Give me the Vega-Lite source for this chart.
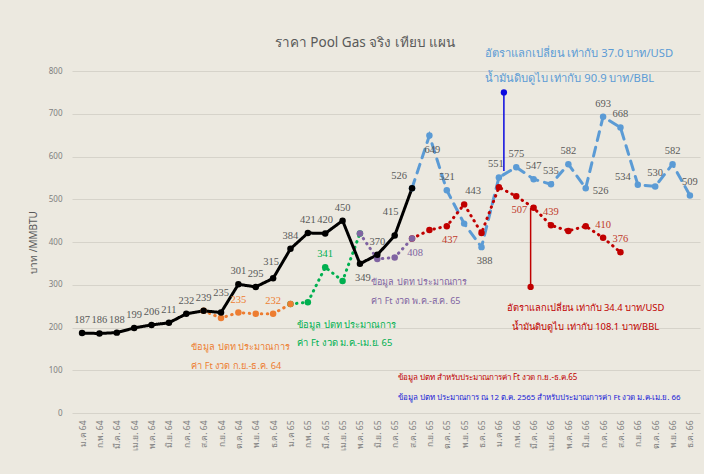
{
  "$schema": "https://vega.github.io/schema/vega-lite/v6.json",
  "width": 628,
  "height": 342,
  "autosize": "none",
  "padding": {"left": 72, "top": 71, "right": 4, "bottom": 61},
  "background": "#ECE9E0",
  "config": {
    "font": "Noto Sans",
    "view": {"stroke": null},
    "axis": {"labelColor": "#7f7f7f", "titleColor": "#595959", "labelFont": "Noto Sans", "titleFont": "Noto Sans"},
    "text": {"font": "Liberation Sans Narrow", "fontSize": 10.5, "baseline": "middle", "color": "#595959"}
  },
  "title": {"text": "ราคา Pool Gas จริง เทียบ แผน", "fontSize": 13.5, "fontWeight": "normal", "color": "#595959", "font": "Noto Sans", "dx": -21, "offset": -1, "anchor": "middle"},
  "datasets": {
    "series": [
      {"m": "ส.ค. 65", "s": "ft_jan_apr66", "v": 526},
      {"m": "ก.ย. 65", "s": "ft_jan_apr66", "v": 649},
      {"m": "ต.ค. 65", "s": "ft_jan_apr66", "v": 521},
      {"m": "พ.ย. 65", "s": "ft_jan_apr66", "v": 443},
      {"m": "ธ.ค. 65", "s": "ft_jan_apr66", "v": 388},
      {"m": "ม.ค 66", "s": "ft_jan_apr66", "v": 551},
      {"m": "ก.พ. 66", "s": "ft_jan_apr66", "v": 575},
      {"m": "มี.ค. 66", "s": "ft_jan_apr66", "v": 547},
      {"m": "เม.ย. 66", "s": "ft_jan_apr66", "v": 535},
      {"m": "พ.ค. 66", "s": "ft_jan_apr66", "v": 582},
      {"m": "มิ.ย. 66", "s": "ft_jan_apr66", "v": 526},
      {"m": "ก.ค. 66", "s": "ft_jan_apr66", "v": 693},
      {"m": "ส.ค. 66", "s": "ft_jan_apr66", "v": 668},
      {"m": "ก.ย. 66", "s": "ft_jan_apr66", "v": 534},
      {"m": "ต.ค. 66", "s": "ft_jan_apr66", "v": 530},
      {"m": "พ.ย. 66", "s": "ft_jan_apr66", "v": 582},
      {"m": "ธ.ค. 66", "s": "ft_jan_apr66", "v": 509},
      {"m": "ส.ค. 65", "s": "ft_sep_dec65", "v": 408},
      {"m": "ก.ย. 65", "s": "ft_sep_dec65", "v": 428},
      {"m": "ต.ค. 65", "s": "ft_sep_dec65", "v": 437},
      {"m": "พ.ย. 65", "s": "ft_sep_dec65", "v": 488},
      {"m": "ธ.ค. 65", "s": "ft_sep_dec65", "v": 421},
      {"m": "ม.ค 66", "s": "ft_sep_dec65", "v": 528},
      {"m": "ก.พ. 66", "s": "ft_sep_dec65", "v": 507},
      {"m": "มี.ค. 66", "s": "ft_sep_dec65", "v": 480},
      {"m": "เม.ย. 66", "s": "ft_sep_dec65", "v": 439},
      {"m": "พ.ค. 66", "s": "ft_sep_dec65", "v": 426},
      {"m": "มิ.ย. 66", "s": "ft_sep_dec65", "v": 437},
      {"m": "ก.ค. 66", "s": "ft_sep_dec65", "v": 410},
      {"m": "ส.ค. 66", "s": "ft_sep_dec65", "v": 376},
      {"m": "ม.ค 65", "s": "ft_jan_apr65", "v": 255},
      {"m": "ก.พ. 65", "s": "ft_jan_apr65", "v": 259},
      {"m": "มี.ค. 65", "s": "ft_jan_apr65", "v": 341},
      {"m": "เม.ย. 65", "s": "ft_jan_apr65", "v": 309},
      {"m": "พ.ค. 65", "s": "ft_jan_apr65", "v": 420},
      {"m": "พ.ค. 65", "s": "ft_may_aug65", "v": 420},
      {"m": "มิ.ย. 65", "s": "ft_may_aug65", "v": 360},
      {"m": "ก.ค. 65", "s": "ft_may_aug65", "v": 364},
      {"m": "ส.ค. 65", "s": "ft_may_aug65", "v": 408},
      {"m": "ส.ค. 64", "s": "ft_sep_dec64", "v": 239},
      {"m": "ก.ย. 64", "s": "ft_sep_dec64", "v": 222},
      {"m": "ต.ค. 64", "s": "ft_sep_dec64", "v": 235},
      {"m": "พ.ย. 64", "s": "ft_sep_dec64", "v": 232},
      {"m": "ธ.ค. 64", "s": "ft_sep_dec64", "v": 232},
      {"m": "ม.ค 65", "s": "ft_sep_dec64", "v": 255},
      {"m": "ม.ค 64", "s": "actual", "v": 187},
      {"m": "ก.พ. 64", "s": "actual", "v": 186},
      {"m": "มี.ค. 64", "s": "actual", "v": 188},
      {"m": "เม.ย. 64", "s": "actual", "v": 199},
      {"m": "พ.ค. 64", "s": "actual", "v": 206},
      {"m": "มิ.ย. 64", "s": "actual", "v": 211},
      {"m": "ก.ค. 64", "s": "actual", "v": 232},
      {"m": "ส.ค. 64", "s": "actual", "v": 239},
      {"m": "ก.ย. 64", "s": "actual", "v": 235},
      {"m": "ต.ค. 64", "s": "actual", "v": 301},
      {"m": "พ.ย. 64", "s": "actual", "v": 295},
      {"m": "ธ.ค. 64", "s": "actual", "v": 315},
      {"m": "ม.ค 65", "s": "actual", "v": 384},
      {"m": "ก.พ. 65", "s": "actual", "v": 421},
      {"m": "มี.ค. 65", "s": "actual", "v": 420},
      {"m": "เม.ย. 65", "s": "actual", "v": 450},
      {"m": "พ.ค. 65", "s": "actual", "v": 349},
      {"m": "มิ.ย. 65", "s": "actual", "v": 370},
      {"m": "ก.ค. 65", "s": "actual", "v": 415},
      {"m": "ส.ค. 65", "s": "actual", "v": 526}
    ]
  },
  "encoding": {
    "x": {
      "field": "m", "type": "ordinal",
      "scale": {"type": "point", "padding": 0.58, "domain": ["ม.ค 64","ก.พ. 64","มี.ค. 64","เม.ย. 64","พ.ค. 64","มิ.ย. 64","ก.ค. 64","ส.ค. 64","ก.ย. 64","ต.ค. 64","พ.ย. 64","ธ.ค. 64","ม.ค 65","ก.พ. 65","มี.ค. 65","เม.ย. 65","พ.ค. 65","มิ.ย. 65","ก.ค. 65","ส.ค. 65","ก.ย. 65","ต.ค. 65","พ.ย. 65","ธ.ค. 65","ม.ค 66","ก.พ. 66","มี.ค. 66","เม.ย. 66","พ.ค. 66","มิ.ย. 66","ก.ค. 66","ส.ค. 66","ก.ย. 66","ต.ค. 66","พ.ย. 66","ธ.ค. 66"]},
      "axis": {"title": null, "labelAngle": -90, "labelFontSize": 8.5, "labelPadding": 7, "ticks": false, "domain": false, "grid": false}
    }
  },
  "layer": [
    {
      "data": {"name": "series"},
      "mark": {"type": "line", "strokeWidth": 3, "strokeCap": "round"},
      "encoding": {
        "y": {"field": "v", "type": "quantitative", "scale": {"domain": [0, 800]},
              "axis": {"title": "บาท /MMBTU", "titleFontSize": 10, "titleFontWeight": "normal", "titlePadding": 10, "values": [0,100,200,300,400,500,600,700,800], "labelFontSize": 8, "labelPadding": 10, "ticks": false, "domain": false, "gridColor": "#d6d3ca", "gridWidth": 1}},
        "color": {"field": "s", "type": "nominal", "legend": null,
                  "scale": {"domain": ["ft_jan_apr66","ft_sep_dec65","ft_jan_apr65","ft_may_aug65","ft_sep_dec64","actual"],
                            "range": ["#5b9bd5","#c00000","#00b050","#8064a2","#ed7d31","#000000"]}},
        "strokeDash": {"field": "s", "type": "nominal", "legend": null,
                  "scale": {"domain": ["ft_jan_apr66","ft_sep_dec65","ft_jan_apr65","ft_may_aug65","ft_sep_dec64","actual"],
                            "range": [[9,7],[0.5,5.5],[0.5,5.5],[0.5,5.5],[0.5,5.5],[1,0]]}}
      }
    },
    {
      "data": {"name": "series"},
      "mark": {"type": "circle", "size": 42, "opacity": 1},
      "encoding": {
        "y": {"field": "v", "type": "quantitative"},
        "color": {"field": "s", "type": "nominal", "legend": null}
      }
    },
    {
      "data": {"values": [{"m": "ม.ค 66", "lo": 566, "hi": 750}]},
      "mark": {"type": "rule", "color": "#0a0ae0", "strokeWidth": 1.5, "xOffset": 5},
      "encoding": {"y": {"field": "lo", "type": "quantitative"}, "y2": {"field": "hi"}}
    },
    {
      "data": {"values": [{"m": "ม.ค 66", "v": 750}]},
      "mark": {"type": "circle", "color": "#0a0ae0", "size": 40, "opacity": 1, "xOffset": 5},
      "encoding": {"y": {"field": "v", "type": "quantitative"}}
    },
    {
      "data": {"values": [{"m": "มี.ค. 66", "lo": 295, "hi": 480}]},
      "mark": {"type": "rule", "color": "#c00000", "strokeWidth": 1.5, "xOffset": -3},
      "encoding": {"y": {"field": "lo", "type": "quantitative"}, "y2": {"field": "hi"}}
    },
    {
      "data": {"values": [{"m": "มี.ค. 66", "v": 295}]},
      "mark": {"type": "circle", "color": "#c00000", "size": 40, "opacity": 1, "xOffset": -3},
      "encoding": {"y": {"field": "v", "type": "quantitative"}}
    },
    {
      "data": {"name": "series"},
      "transform": [
        {"filter": "((datum.s==='actual' && indexof(['พ.ค. 65','ก.ย. 64','ธ.ค. 64','ก.ค. 65','ส.ค. 65'], datum.m) < 0) || (datum.s==='ft_sep_dec64' && (datum.m==='ต.ค. 64' || datum.m==='ธ.ค. 64')) || (datum.s==='ft_jan_apr65' && datum.m==='มี.ค. 65') || (datum.s==='ft_jan_apr66' && indexof(['ต.ค. 65','ก.พ. 66','มี.ค. 66','เม.ย. 66','พ.ค. 66','ก.ค. 66','ส.ค. 66','ต.ค. 66','พ.ย. 66','ธ.ค. 66'], datum.m) >= 0) || (datum.s==='ft_sep_dec65' && indexof(['เม.ย. 66','ก.ค. 66','ส.ค. 66'], datum.m) >= 0))"},
        {"calculate": "datum.s==='ft_sep_dec64' ? '#ed7d31' : datum.s==='ft_jan_apr65' ? '#00b050' : datum.s==='ft_may_aug65' ? '#8064a2' : datum.s==='ft_sep_dec65' ? '#c0392b' : '#595959'", "as": "lc"}
      ],
      "mark": {"type": "text", "dy": -13},
      "encoding": {
        "y": {"field": "v", "type": "quantitative"},
        "text": {"field": "v", "type": "quantitative"},
        "color": {"field": "lc", "type": "nominal", "scale": null}
      }
    },
    {
      "data": {"name": "series"},
      "transform": [
        {"filter": "(datum.s==='actual' && datum.m==='พ.ค. 65') || (datum.s==='ft_jan_apr66' && indexof(['ก.ย. 65','ธ.ค. 65'], datum.m) >= 0) || (datum.s==='ft_sep_dec65' && indexof(['ต.ค. 65','ก.พ. 66'], datum.m) >= 0) || (datum.s==='ft_may_aug65' && datum.m==='ส.ค. 65')"},
        {"calculate": "datum.s==='ft_may_aug65' ? '#8064a2' : datum.s==='ft_sep_dec65' ? '#c0392b' : '#595959'", "as": "lc"}
      ],
      "mark": {"type": "text", "dy": 14, "dx": 3},
      "encoding": {
        "y": {"field": "v", "type": "quantitative"},
        "text": {"field": "v", "type": "quantitative"},
        "color": {"field": "lc", "type": "nominal", "scale": null}
      }
    },
    {
      "data": {"name": "series"},
      "transform": [{"filter": "datum.s==='actual' && datum.m==='ก.ย. 64'"}],
      "mark": {"type": "text", "dy": -20},
      "encoding": {"y": {"field": "v", "type": "quantitative"}, "text": {"field": "v", "type": "quantitative"}}
    },
    {
      "data": {"name": "series"},
      "transform": [{"filter": "datum.s==='actual' && datum.m==='ธ.ค. 64'"}],
      "mark": {"type": "text", "dy": -16, "dx": -2},
      "encoding": {"y": {"field": "v", "type": "quantitative"}, "text": {"field": "v", "type": "quantitative"}}
    },
    {
      "data": {"name": "series"},
      "transform": [{"filter": "datum.s==='actual' && datum.m==='ก.ค. 65'"}],
      "mark": {"type": "text", "dy": -24, "dx": -4},
      "encoding": {"y": {"field": "v", "type": "quantitative"}, "text": {"field": "v", "type": "quantitative"}}
    },
    {
      "data": {"name": "series"},
      "transform": [{"filter": "datum.s==='actual' && datum.m==='ส.ค. 65'"}],
      "mark": {"type": "text", "dy": -12, "dx": -13},
      "encoding": {"y": {"field": "v", "type": "quantitative"}, "text": {"field": "v", "type": "quantitative"}}
    },
    {
      "data": {"name": "series"},
      "transform": [{"filter": "datum.s==='ft_jan_apr66' && datum.m==='พ.ย. 65'"}],
      "mark": {"type": "text", "dy": -33, "dx": 9},
      "encoding": {"y": {"field": "v", "type": "quantitative"}, "text": {"field": "v", "type": "quantitative"}}
    },
    {
      "data": {"name": "series"},
      "transform": [{"filter": "datum.s==='ft_jan_apr66' && datum.m==='ม.ค 66'"}],
      "mark": {"type": "text", "dy": -13, "dx": -3},
      "encoding": {"y": {"field": "v", "type": "quantitative"}, "text": {"field": "v", "type": "quantitative"}}
    },
    {
      "data": {"name": "series"},
      "transform": [{"filter": "datum.s==='ft_jan_apr66' && datum.m==='ก.ย. 66'"}],
      "mark": {"type": "text", "dx": -7, "dy": -8, "align": "right"},
      "encoding": {"y": {"field": "v", "type": "quantitative"}, "text": {"field": "v", "type": "quantitative"}}
    },
    {
      "data": {"name": "series"},
      "transform": [{"filter": "datum.s==='ft_jan_apr66' && datum.m==='มิ.ย. 66'"}],
      "mark": {"type": "text", "dx": 7, "dy": 3, "align": "left"},
      "encoding": {"y": {"field": "v", "type": "quantitative"}, "text": {"field": "v", "type": "quantitative"}}
    },
    {
      "data": {"values": [{"m": "ธ.ค. 65", "v": 839, "t": ["อัตราแลกเปลี่ยน เท่ากับ 37.0 บาท/USD", "น้ำมันดิบดูไบ เท่ากับ 90.9 บาท/BBL"]}]},
      "mark": {"type": "text", "font": "Noto Sans", "align": "left", "dx": 3, "fontSize": 11.2, "lineHeight": 25, "color": "#5b9bd5"},
      "encoding": {"y": {"field": "v", "type": "quantitative"}, "text": {"field": "t"}}
    },
    {
      "data": {"values": [{"m": "มิ.ย. 66", "v": 246, "t": ["อัตราแลกเปลี่ยน เท่ากับ 34.4 บาท/USD", "น้ำมันดิบดูไบ เท่ากับ 108.1 บาท/BBL"]}]},
      "mark": {"type": "text", "font": "Noto Sans", "align": "center", "fontSize": 9.4, "lineHeight": 19, "color": "#c00000"},
      "encoding": {"y": {"field": "v", "type": "quantitative"}, "text": {"field": "t"}}
    },
    {
      "data": {"values": [{"m": "ก.ค. 64", "v": 155, "t": ["ข้อมูล ปตท ประมาณการ", "ค่า Ft งวด ก.ย.-ธ.ค. 64"]}]},
      "mark": {"type": "text", "font": "Noto Sans", "align": "left", "dx": 5, "fontSize": 9.2, "lineHeight": 19, "color": "#ed7d31"},
      "encoding": {"y": {"field": "v", "type": "quantitative"}, "text": {"field": "t"}}
    },
    {
      "data": {"values": [{"m": "ม.ค 65", "v": 206, "t": ["ข้อมูล ปตท ประมาณการ", "ค่า Ft งวด ม.ค.-เม.ย. 65"]}]},
      "mark": {"type": "text", "font": "Noto Sans", "align": "left", "dx": 7, "fontSize": 9.4, "lineHeight": 18, "color": "#00b050"},
      "encoding": {"y": {"field": "v", "type": "quantitative"}, "text": {"field": "t"}}
    },
    {
      "data": {"values": [{"m": "มิ.ย. 65", "v": 306, "t": ["ข้อมูล ปตท ประมาณการ", "ค่า Ft งวด พ.ค.-ส.ค. 65"]}]},
      "mark": {"type": "text", "font": "Noto Sans", "align": "left", "dx": -6, "fontSize": 9, "lineHeight": 19, "color": "#8064a2"},
      "encoding": {"y": {"field": "v", "type": "quantitative"}, "text": {"field": "t"}}
    },
    {
      "data": {"values": [{"m": "ก.ค. 65", "v": 82, "t": "ข้อมูล ปตท สำหรับประมาณการค่า Ft งวด ก.ย.-ธ.ค.65"}]},
      "mark": {"type": "text", "font": "Noto Sans", "align": "left", "dx": 3, "fontSize": 8, "color": "#c00000"},
      "encoding": {"y": {"field": "v", "type": "quantitative"}, "text": {"field": "t"}}
    },
    {
      "data": {"values": [{"m": "ก.ค. 65", "v": 35, "t": "ข้อมูล ปตท ประมาณการ ณ 12 ต.ค. 2565 สำหรับประมาณการค่า Ft งวด ม.ค-เม.ย. 66"}]},
      "mark": {"type": "text", "font": "Noto Sans", "align": "left", "dx": 3, "fontSize": 7.9, "color": "#1a1ad6"},
      "encoding": {"y": {"field": "v", "type": "quantitative"}, "text": {"field": "t"}}
    }
  ]
}
